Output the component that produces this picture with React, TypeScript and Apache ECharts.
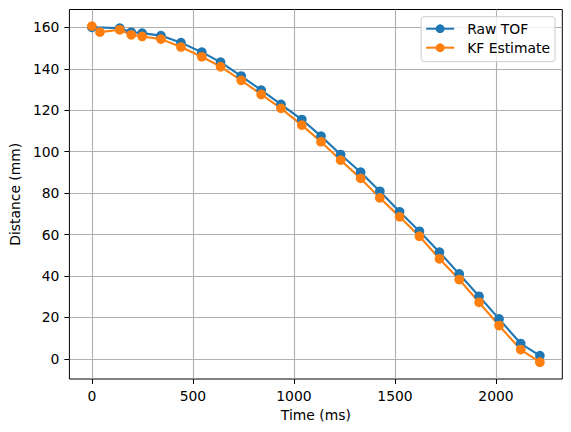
import React, { useEffect, useRef } from "react";
import * as echarts from "echarts";

const timesMs = [0, 40, 138, 195, 249, 342, 441, 544, 637, 739, 838, 936, 1039, 1134, 1231, 1330, 1425, 1523, 1621, 1720, 1818, 1916, 2015, 2122, 2217];
const rawTof: (number | null)[] = [160.0, null, 159.6, 157.6, 157.2, 156.0, 152.6, 148.0, 143.2, 136.5, 129.7, 122.8, 115.5, 107.5, 98.6, 90.1, 80.9, 71.0, 61.6, 51.5, 41.0, 30.2, 19.3, 7.4, 1.6];
const kfEstimate = [160.6, 157.7, 158.8, 156.4, 155.6, 154.3, 150.5, 145.8, 141.0, 134.4, 127.6, 120.9, 112.8, 104.8, 95.9, 87.1, 77.7, 68.6, 59.2, 48.3, 38.3, 27.3, 16.1, 4.5, -1.6];
const xTicks = [0, 500, 1000, 1500, 2000];
const yTicks = [0, 20, 40, 60, 80, 100, 120, 140, 160];

const FONT = "DejaVu Sans";
const FS = 13.9;

export default function App() {
  const ref = useRef<HTMLDivElement>(null);
  useEffect(() => {
    document.body.style.margin = "0";
    const chart = echarts.init(ref.current!, null, { renderer: "svg" });
    const pair = (vals: (number | null)[]) => timesMs.map((t, i) => [t, vals[i] === null ? "-" : vals[i]]);
    chart.setOption({
      animation: false,
      backgroundColor: "#ffffff",
      textStyle: { fontFamily: FONT },
      grid: {
        left: 66.5,
        right: 8.7,
        top: 9.5,
        bottom: 53,
        show: true,
        borderColor: "#000",
        borderWidth: 1,
        backgroundColor: "transparent",
      },
      legend: {
        orient: "vertical",
        right: 16,
        top: 16.7,
        align: "left",
        padding: [5, 5, 7, 4],
        itemWidth: 28,
        itemHeight: 11,
        itemGap: 5,
        backgroundColor: "rgba(255,255,255,0.8)",
        borderColor: "#cccccc",
        borderWidth: 1,
        borderRadius: 3,
        textStyle: { fontFamily: FONT, fontSize: FS, color: "#000", padding: [0, 0, 0, 8], lineHeight: 14 },
        data: ["Raw TOF", "KF Estimate"],
      },
      xAxis: {
        type: "value",
        min: -111,
        max: 2328,
        name: "Time (ms)",
        nameLocation: "middle",
        nameGap: 29,
        nameTextStyle: { fontFamily: FONT, fontSize: FS, color: "#000" },
        axisLine: { show: false, onZero: false },
        axisTick: { show: true, length: 5, customValues: xTicks, lineStyle: { color: "#000", width: 1 } },
        axisLabel: { customValues: xTicks, fontFamily: FONT, fontSize: FS, color: "#000", margin: 10, formatter: (v: number) => String(v) },
        splitLine: { show: true, lineStyle: { color: "#b0b0b0", width: 1.1 } },
      },
      yAxis: {
        type: "value",
        min: -9.7,
        max: 168.6,
        name: "Distance (mm)",
        nameLocation: "middle",
        nameGap: 43,
        nameTextStyle: { fontFamily: FONT, fontSize: FS, color: "#000" },
        axisLine: { show: false, onZero: false },
        axisTick: { show: true, length: 5, customValues: yTicks, lineStyle: { color: "#000", width: 1 } },
        axisLabel: { customValues: yTicks, fontFamily: FONT, fontSize: FS, color: "#000", margin: 10, formatter: (v: number) => String(v) },
        splitLine: { show: true, lineStyle: { color: "#b0b0b0", width: 1.1 } },
      },
      series: [
        {
          name: "Raw TOF",
          type: "line",
          data: pair(rawTof),
          connectNulls: true,
          symbol: "circle",
          symbolSize: 9.7,
          showAllSymbol: true,
          color: "#1f77b4",
          itemStyle: { color: "#1f77b4" },
          lineStyle: { color: "#1f77b4", width: 2.1 },
          emphasis: { disabled: true },
        },
        {
          name: "KF Estimate",
          type: "line",
          data: pair(kfEstimate),
          symbol: "circle",
          symbolSize: 9.7,
          showAllSymbol: true,
          color: "#ff7f0e",
          itemStyle: { color: "#ff7f0e" },
          lineStyle: { color: "#ff7f0e", width: 2.1 },
          emphasis: { disabled: true },
        },
      ],
    });
    return () => chart.dispose();
  }, []);
  return <div ref={ref} style={{ width: 571, height: 432 }} />;
}
